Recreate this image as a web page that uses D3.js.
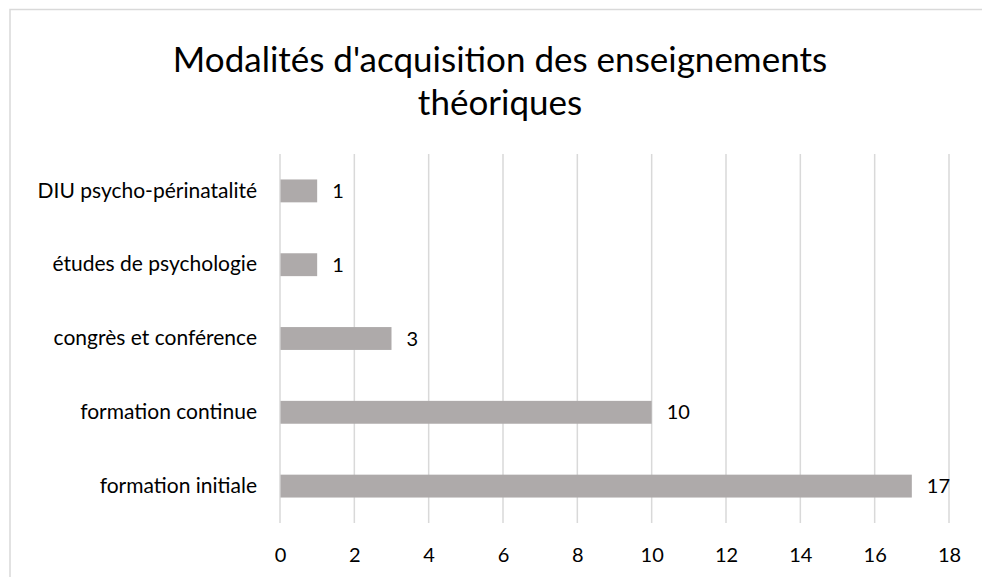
<!DOCTYPE html>
<html><head><meta charset="utf-8">
<script src="https://cdn.jsdelivr.net/npm/d3@7"></script>
<style>body{margin:0;background:#fff}svg{display:block}text{font-family:Lato,"Open Sans",sans-serif}</style>
</head><body><svg id="c" width="982" height="577"></svg>
<script>
const categories = ["DIU psycho-périnatalité","études de psychologie","congrès et conférence","formation continue","formation initiale"];
const values = [1,1,3,10,17];
const tickValues = [0,2,4,6,8,10,12,14,16,18];
const titleLines = ["Modalités d'acquisition des enseignements","théoriques"];

const svg = d3.select("#c");
svg.append("rect").attr("x",10).attr("y",9.5).attr("width",1000).attr("height",600)
  .attr("fill","#fff").attr("stroke","#d9d9d9").attr("stroke-width",1.5);

const m = {left:280, right:949, top:154, bottom:523};
const x = d3.scaleLinear().domain([0,18]).range([m.left,m.right]);
const y = d3.scaleBand().domain(categories).range([m.top,m.bottom]).paddingInner(0.69).paddingOuter(0.345);
const FS = 20;

// gridlines
svg.append("g").selectAll("line").data(tickValues).join("line")
  .attr("x1",d=>x(d)).attr("x2",d=>x(d)).attr("y1",m.top).attr("y2",m.bottom)
  .attr("stroke","#d9d9d9").attr("stroke-width",1.5);

// bars
svg.append("g").selectAll("rect").data(values).join("rect")
  .attr("x",x(0)+0.5).attr("y",(d,i)=>y(categories[i]))
  .attr("width",d=>x(d)-x(0)-0.5).attr("height",y.bandwidth())
  .attr("fill","#aeaaaa");

// value labels
svg.append("g").selectAll("text").data(values).join("text")
  .attr("x",d=>x(d)+15).attr("y",(d,i)=>y(categories[i])+y.bandwidth()/2)
  .attr("dy","0.35em").style("font-size",FS+"px").attr("fill","#000").text(d=>d);

// y axis labels
const ya = svg.append("g").attr("transform",`translate(${m.left},0)`)
  .call(d3.axisLeft(y).tickSize(0).tickPadding(23));
ya.select(".domain").remove();
ya.selectAll("text").style("font-size","21px").attr("fill","#000").style("font-family","Lato");

// x axis labels
const xa = svg.append("g").attr("transform",`translate(0,${m.bottom})`)
  .call(d3.axisBottom(x).tickValues(tickValues).tickSize(0).tickPadding(25));
xa.select(".domain").remove();
xa.selectAll("text").style("font-size",FS+"px").attr("fill","#000").style("font-family","Lato");

// title
svg.append("g").selectAll("text").data(titleLines).join("text")
  .attr("x",500).attr("y",(d,i)=>72+i*43)
  .attr("text-anchor","middle").style("font-size","35px").attr("fill","#000").text(d=>d);
</script></body></html>
